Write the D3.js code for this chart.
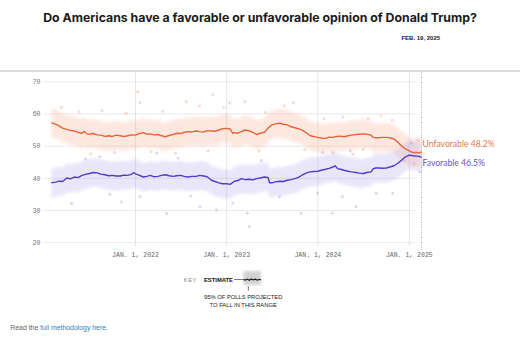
<!DOCTYPE html>
<html>
<head>
<meta charset="utf-8">
<script src="https://cdn.jsdelivr.net/npm/d3@7"></script>
<style>
  html, body { margin: 0; padding: 0; background: #fff; }
  svg { display: block; }
</style>
</head>
<body>
<svg id="chart" width="520" height="349"></svg>
<script>
// Polling-average estimates (share of respondents, %)
const unfavorable = [
  ["2021-01-29",57.2],["2021-02-15",56.8],["2021-03-01",56.3],["2021-03-15",55.6],["2021-04-01",55.2],
  ["2021-04-15",54.9],["2021-05-01",54.7],["2021-05-15",54.3],["2021-06-01",54.0],["2021-06-10",54.6],
  ["2021-06-20",53.8],["2021-07-01",53.7],["2021-07-15",53.9],["2021-08-01",53.5],["2021-08-15",53.4],
  ["2021-09-01",53.0],["2021-09-15",53.2],["2021-10-01",53.0],["2021-10-15",53.4],["2021-11-01",53.2],
  ["2021-11-15",53.0],["2021-12-01",53.2],["2021-12-15",53.5],["2022-01-01",53.4],["2022-01-15",53.9],
  ["2022-02-01",54.2],["2022-02-15",53.7],["2022-03-01",53.8],["2022-03-15",53.5],["2022-04-01",53.6],
  ["2022-04-15",53.2],["2022-05-01",52.9],["2022-05-15",53.3],["2022-06-01",53.6],["2022-06-15",54.0],
  ["2022-07-01",53.9],["2022-07-15",54.3],["2022-08-01",54.5],["2022-08-15",54.4],["2022-09-01",54.7],
  ["2022-09-15",54.5],["2022-10-01",54.4],["2022-10-15",54.8],["2022-11-01",54.7],["2022-11-15",54.6],
  ["2022-12-01",55.0],["2022-12-15",55.4],["2023-01-01",55.5],["2023-01-15",55.3],["2023-01-25",54.0],
  ["2023-02-01",54.2],["2023-02-15",54.0],["2023-03-01",54.5],["2023-03-15",55.0],["2023-04-01",54.7],
  ["2023-04-15",54.3],["2023-05-01",53.6],["2023-05-15",54.0],["2023-06-01",54.3],["2023-06-15",55.5],
  ["2023-07-01",56.6],["2023-07-15",56.9],["2023-08-01",57.1],["2023-08-15",56.8],["2023-09-01",56.6],
  ["2023-09-15",56.0],["2023-10-01",55.7],["2023-10-15",55.4],["2023-11-01",54.9],["2023-11-15",54.2],
  ["2023-12-01",53.2],["2023-12-15",53.0],["2024-01-01",52.7],["2024-01-15",52.5],["2024-02-01",52.4],
  ["2024-02-15",52.8],["2024-03-01",52.7],["2024-03-15",53.0],["2024-04-01",53.1],["2024-04-15",52.9],
  ["2024-05-01",53.2],["2024-05-15",53.4],["2024-06-01",53.6],["2024-06-15",53.7],["2024-07-01",53.8],
  ["2024-07-15",53.7],["2024-08-01",53.4],["2024-08-10",52.7],["2024-08-20",52.6],["2024-09-01",52.6],
  ["2024-09-15",52.7],["2024-10-01",52.7],["2024-10-15",52.6],["2024-11-01",52.2],["2024-11-15",51.3],
  ["2024-12-01",50.1],["2024-12-15",49.2],["2025-01-01",48.5],["2025-01-15",48.0],["2025-02-01",48.0],
  ["2025-02-10",47.9],["2025-02-19",48.2]
];

const favorable = [
  ["2021-01-29",38.6],["2021-02-15",38.8],["2021-03-01",39.1],["2021-03-15",39.0],["2021-04-01",40.1],
  ["2021-04-15",39.8],["2021-05-01",40.4],["2021-05-15",40.2],["2021-06-01",40.9],["2021-06-15",41.2],
  ["2021-07-01",41.5],["2021-07-15",41.8],["2021-08-01",41.7],["2021-08-15",41.3],["2021-09-01",41.1],
  ["2021-09-15",40.8],["2021-10-01",40.9],["2021-10-15",40.7],["2021-11-01",40.7],["2021-11-15",41.0],
  ["2021-12-01",40.9],["2021-12-15",41.2],["2021-12-25",41.8],["2022-01-01",41.4],["2022-01-15",41.0],
  ["2022-02-01",40.4],["2022-02-15",40.6],["2022-03-01",40.9],["2022-03-15",40.5],["2022-04-01",40.6],
  ["2022-04-15",40.9],["2022-05-01",41.1],["2022-05-15",40.8],["2022-06-01",40.6],["2022-06-15",40.8],
  ["2022-07-01",40.9],["2022-07-15",40.6],["2022-08-01",40.4],["2022-08-15",40.6],["2022-09-01",40.6],
  ["2022-09-15",40.9],["2022-10-01",40.7],["2022-10-15",40.5],["2022-11-01",39.4],["2022-11-15",39.0],
  ["2022-12-01",38.6],["2022-12-15",38.3],["2023-01-01",38.3],["2023-01-15",38.1],["2023-02-01",39.1],
  ["2023-02-15",39.3],["2023-03-01",39.9],["2023-03-15",39.6],["2023-04-01",39.7],["2023-04-15",39.5],
  ["2023-05-01",39.9],["2023-05-15",40.1],["2023-06-01",40.4],["2023-06-15",40.3],["2023-06-22",38.6],
  ["2023-07-01",38.6],["2023-07-15",38.9],["2023-08-01",39.1],["2023-08-15",39.0],["2023-09-01",39.4],
  ["2023-09-15",39.6],["2023-10-01",39.9],["2023-10-15",40.3],["2023-11-01",41.1],["2023-11-15",41.6],
  ["2023-12-01",42.0],["2023-12-15",42.1],["2024-01-01",42.2],["2024-01-15",42.5],["2024-02-01",42.8],
  ["2024-02-15",43.1],["2024-03-01",43.5],["2024-03-10",43.9],["2024-03-20",43.0],["2024-04-01",42.8],
  ["2024-04-15",42.5],["2024-05-01",42.2],["2024-05-15",42.0],["2024-06-01",41.8],["2024-06-15",41.6],
  ["2024-07-01",41.5],["2024-07-15",41.8],["2024-08-01",42.0],["2024-08-10",43.0],["2024-08-20",43.2],
  ["2024-09-01",43.2],["2024-09-15",43.1],["2024-10-01",43.2],["2024-10-15",43.5],["2024-11-01",43.9],
  ["2024-11-15",44.6],["2024-12-01",45.6],["2024-12-15",46.6],["2025-01-01",47.2],["2025-01-15",47.0],
  ["2025-02-01",46.9],["2025-02-10",46.8],["2025-02-19",46.5]
];

// Individual polls falling outside the projected range
const unfavorablePolls = [
  ["2021-03-10",62.0],["2021-05-20",60.6],["2021-07-05",47.6],["2021-08-20",61.0],["2021-10-10",48.0],
  ["2021-11-25",60.2],["2022-01-10",66.9],["2022-01-20",63.5],["2022-03-05",48.3],["2022-04-20",60.8],
  ["2022-06-10",47.8],["2022-07-24",63.8],["2022-09-15",62.5],["2022-10-20",48.5],["2022-11-06",65.9],
  ["2022-12-20",62.0],["2023-01-13",63.4],["2023-03-15",63.8],["2023-05-10",48.5],["2023-06-05",60.5],
  ["2023-08-20",62.5],["2023-09-25",63.5],["2023-11-10",49.0],["2024-01-25",58.5],["2024-03-01",48.0],
  ["2024-04-10",59.0],["2024-05-20",47.5],["2024-07-01",49.0],["2024-07-20",58.5],["2024-09-10",59.5],
  ["2024-10-25",58.0],["2024-12-10",45.5],["2025-01-20",44.5],["2025-02-05",51.8]
];

const favorablePolls = [
  ["2021-04-20",32.2],["2021-08-11",46.7],["2021-11-06",32.7],["2022-01-19",34.3],["2022-03-27",47.8],
  ["2022-05-05",29.1],["2022-09-16",31.2],["2022-11-21",30.2],["2023-01-26",32.3],["2023-03-25",29.2],
  ["2023-04-02",25.0],["2023-07-31",34.3],["2023-10-26",29.1],["2023-12-31",35.4],["2024-02-28",29.2],
  ["2024-04-08",34.3],["2024-06-02",31.2],["2024-08-22",35.3],["2024-10-27",35.4],["2021-06-15",46.0],
  ["2021-09-20",35.0],["2022-06-20",46.3],["2022-08-10",34.5],["2023-05-20",45.5],["2024-01-20",48.0],
  ["2024-05-10",48.5],["2025-01-10",51.0],["2025-02-12",42.0]
];

const spread = 4.5;   // half-width of the range where 95% of polls are projected to fall
const yTicks = [20, 30, 40, 50, 60, 70];
const xTicks = ["2022-01-01", "2023-01-01", "2024-01-01", "2025-01-01"];
const latestDate = "2025-02-19";

const parse = d3.utcParse("%Y-%m-%d");
const svg = d3.select("#chart");

const x = d3.scaleUtc()
  .domain([parse("2022-01-01"), parse("2025-01-01")])
  .range([135.5, 409.3]);
const y = d3.scaleLinear().domain([20, 70]).range([242.7, 81.7]);

// Title
svg.append("text")
  .attr("x", 260).attr("y", 22)
  .attr("text-anchor", "middle")
  .attr("font-family", "Inter, 'Liberation Sans', sans-serif")
  .attr("font-weight", 700)
  .attr("font-size", 12.3)
  .attr("fill", "#1a1a1a")
  .text("Do Americans have a favorable or unfavorable opinion of Donald Trump?");

// Latest-date marker label
svg.append("text")
  .attr("x", 420.8).attr("y", 39.5)
  .attr("text-anchor", "middle")
  .attr("font-family", "'Liberation Sans', Arial, sans-serif")
  .attr("font-weight", 700)
  .attr("font-size", 6)
  .attr("fill", "#222")
  .text("FEB. 19, 2025");

// Top rule
svg.append("line")
  .attr("x1", 0).attr("x2", 520).attr("y1", 71).attr("y2", 71)
  .attr("stroke", "#cfcfcf").attr("stroke-width", 1.6);

// Horizontal gridlines + y labels
const gy = svg.append("g");
gy.selectAll("line").data(yTicks).join("line")
  .attr("x1", 44).attr("x2", 415)
  .attr("y1", d => y(d)).attr("y2", d => y(d))
  .attr("stroke", "#e3e3e3").attr("stroke-width", 0.8);
gy.selectAll("text").data(yTicks).join("text")
  .attr("x", 40.5).attr("y", d => y(d) + 2.2)
  .attr("text-anchor", "end")
  .attr("font-family", "'Liberation Mono', 'DejaVu Sans Mono', monospace")
  .attr("font-size", 6.5)
  .attr("fill", "#777")
  .text(d => d);

// Vertical gridlines + x labels
const gx = svg.append("g");
gx.selectAll("line").data(xTicks).join("line")
  .attr("x1", d => x(parse(d))).attr("x2", d => x(parse(d)))
  .attr("y1", 72).attr("y2", 246)
  .attr("stroke", "#e0e0e0").attr("stroke-width", 0.8);
gx.selectAll("text").data(xTicks).join("text")
  .attr("x", d => x(parse(d))).attr("y", 256.5)
  .attr("text-anchor", "middle")
  .attr("font-family", "'Liberation Mono', 'DejaVu Sans Mono', monospace")
  .attr("font-size", 6.5)
  .attr("fill", "#666")
  .text(d => d3.utcFormat("JAN. %-d, %Y")(parse(d)));

// Latest date dotted marker
svg.append("line")
  .attr("x1", x(parse(latestDate))).attr("x2", x(parse(latestDate)))
  .attr("y1", 72).attr("y2", 250)
  .attr("stroke", "#999").attr("stroke-width", 0.8)
  .attr("stroke-dasharray", "1,1.5");

// Soft edges for the projected ranges
const defs = svg.append("defs");
defs.append("filter").attr("id", "soft")
  .attr("x", "-5%").attr("y", "-20%").attr("width", "110%").attr("height", "140%")
  .append("feGaussianBlur").attr("stdDeviation", 1.4);

const series = [
  { data: unfavorable, polls: unfavorablePolls, line: "#e8643a", band: "#f8ae90", dot: "#f2a080" },
  { data: favorable, polls: favorablePolls, line: "#5538cc", band: "#b4a6ee", dot: "#a595e6" }
];

const area = d3.area()
  .x(d => x(parse(d[0])))
  .y0(d => y(d[1] - spread))
  .y1(d => y(d[1] + spread))
  .curve(d3.curveMonotoneX);
const line = d3.line()
  .x(d => x(parse(d[0])))
  .y(d => y(d[1]));

series.forEach(s => {
  svg.append("path")
    .datum(s.data)
    .attr("d", area)
    .attr("fill", s.band)
    .attr("opacity", 0.27)
    .attr("filter", "url(#soft)");
});

series.forEach(s => {
  svg.append("g").selectAll("circle").data(s.polls).join("circle")
    .attr("cx", d => x(parse(d[0])))
    .attr("cy", d => y(d[1]))
    .attr("r", 1.6)
    .attr("fill", s.dot)
    .attr("opacity", 0.35);
});

series.forEach(s => {
  svg.append("path")
    .datum(s.data)
    .attr("d", line)
    .attr("fill", "none")
    .attr("stroke", s.line)
    .attr("stroke-width", 1.4)
    .attr("stroke-linejoin", "round");
});

// End labels
const lastU = unfavorable[unfavorable.length - 1];
const lastF = favorable[favorable.length - 1];
svg.append("text")
  .attr("x", 422.5).attr("y", 147.3)
  .attr("font-family", "Lato, 'Open Sans', sans-serif")
  .attr("font-size", 8.6)
  .attr("fill", "#e8764c")
  .text(`Unfavorable ${lastU[1].toFixed(1)}%`);
svg.append("text")
  .attr("x", 422.5).attr("y", 166.3)
  .attr("font-family", "Lato, 'Open Sans', sans-serif")
  .attr("font-size", 8.6)
  .attr("fill", "#6a52d6")
  .text(`Favorable ${lastF[1].toFixed(1)}%`);

// Key
const key = svg.append("g")
  .attr("font-family", "'Liberation Sans', Arial, sans-serif")
  .attr("font-size", 5.8);
key.append("text").attr("x", 183.7).attr("y", 281.8)
  .attr("fill", "#888").attr("letter-spacing", 0.6).text("KEY");
key.append("text").attr("x", 204).attr("y", 281.8)
  .attr("fill", "#111").attr("font-weight", 700).text("ESTIMATE");
key.append("line").attr("x1", 234).attr("x2", 244).attr("y1", 279.5).attr("y2", 279.5)
  .attr("stroke", "#222").attr("stroke-width", 0.6);
key.append("rect").attr("x", 243.3).attr("y", 271).attr("width", 17.7).attr("height", 14)
  .attr("fill", "#d2d2d2").attr("filter", "url(#soft)");
const keyWiggle = [[0,0],[2,0.6],[4,-0.4],[6,0.8],[8,-0.6],[10,0.5],[12,-0.3],[14,0.7],[16,-0.2],[17.7,0.4]];
key.append("path")
  .attr("d", d3.line().x(d => 243.3 + d[0]).y(d => 279.5 + d[1])(keyWiggle))
  .attr("fill", "none").attr("stroke", "#111").attr("stroke-width", 1.1);
key.append("line").attr("x1", 248.3).attr("x2", 248.3).attr("y1", 286.5).attr("y2", 290.5)
  .attr("stroke", "#222").attr("stroke-width", 0.7);
key.append("text").attr("x", 243.2).attr("y", 299.3).attr("text-anchor", "middle")
  .attr("fill", "#222").text("95% OF POLLS PROJECTED");
key.append("text").attr("x", 243.2).attr("y", 306.6).attr("text-anchor", "middle")
  .attr("fill", "#222").text("TO FALL IN THIS RANGE");

// Methodology note
const note = svg.append("text")
  .attr("x", 10.3).attr("y", 329.8)
  .attr("font-family", "'Liberation Sans', Arial, sans-serif")
  .attr("font-size", 6.9)
  .attr("fill", "#666");
note.append("tspan").text("Read the ");
note.append("tspan").attr("fill", "#2f7fc1").text("full methodology here");
note.append("tspan").text(".");
</script>
</body>
</html>
